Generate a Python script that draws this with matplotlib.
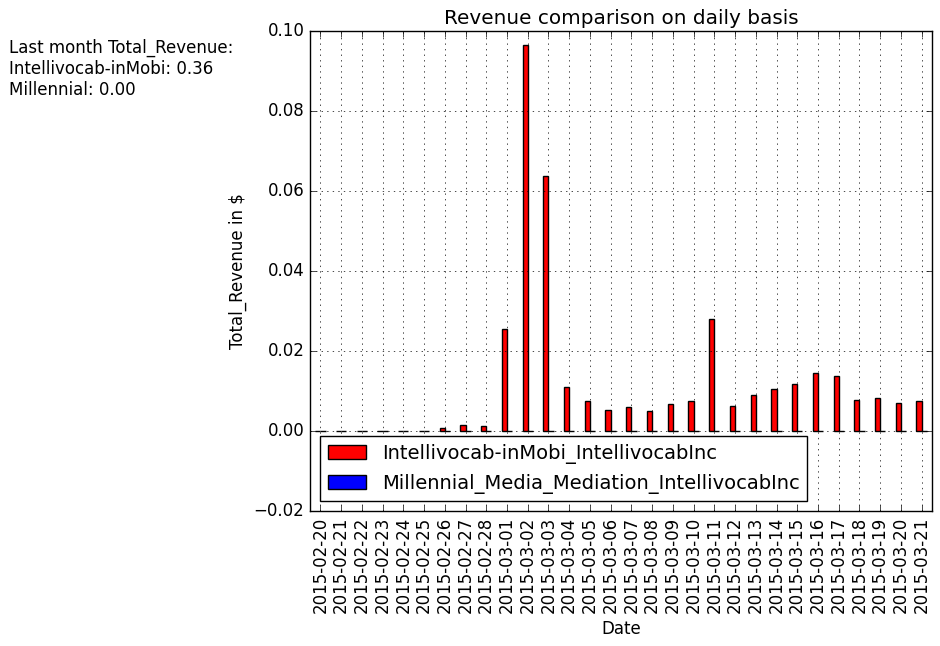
import matplotlib
matplotlib.use("Agg")
import matplotlib.pyplot as plt
import numpy as np
import pandas as pd

plt.style.use("classic")

dates = pd.date_range("2015-02-20", "2015-03-21").strftime("%Y-%m-%d").tolist()
inmobi = [0, 0, 0, 0, 0, 0, 0.0007, 0.0015, 0.0012, 0.0255, 0.0965, 0.0637,
          0.011, 0.0075, 0.0053, 0.006, 0.005, 0.0068, 0.0075, 0.028, 0.0062,
          0.009, 0.0105, 0.0118, 0.0145, 0.0138, 0.0078, 0.0082, 0.007, 0.0075]
millennial = [0.0] * len(dates)

df = pd.DataFrame({"Intellivocab-inMobi_IntellivocabInc": inmobi,
                   "Millennial_Media_Mediation_IntellivocabInc": millennial},
                  index=dates)

fig = plt.figure(figsize=(9.4, 6.46), dpi=100, facecolor="white")
ax = fig.add_axes([310 / 940, 1 - 511 / 646, 622 / 940, 480 / 646])
df.plot(kind="bar", ax=ax, color=["red", "blue"], legend=False)
ax.set_ylim(-0.02, 0.1)
ax.grid(True)
ax.set_title("Revenue comparison on daily basis")
ax.set_xlabel("Date")
ax.set_ylabel("Total_Revenue in $")
ax.legend(loc="lower left", fontsize=14)

fig.text(0.01, 0.94, "Last month Total_Revenue:\nIntellivocab-inMobi: %.2f\nMillennial: %.2f"
         % (sum(inmobi), sum(millennial)), va="top", fontsize=12)

fig.savefig("out.png", dpi=100, facecolor="white")
